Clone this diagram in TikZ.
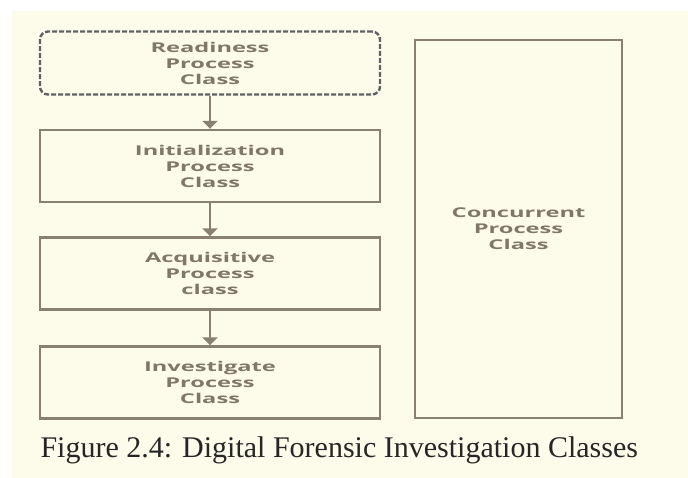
\documentclass[tikz,border=0pt]{standalone}
\usepackage{fontspec}
\setmainfont{Liberation Serif}
\newfontfamily\boxfont[FakeStretch=1.75]{Open Sans}
\usetikzlibrary{arrows.meta,positioning}
\definecolor{cream}{RGB}{253,251,234}
\definecolor{boxline}{RGB}{138,128,114}
\definecolor{boxtext}{RGB}{128,119,106}
\definecolor{dashline}{RGB}{95,98,100}
\tikzset{
  classbox/.style={draw=boxline, line width=2.4pt, minimum width=340pt,
    minimum height=72pt, align=center, text=boxtext,
    font=\boxfont\bfseries\fontsize{13.5}{16}\selectfont},
  flowarrow/.style={draw=boxline, line width=2.4pt,
    -{Triangle[width=15pt,length=8pt]}}
}
\begin{document}
\begin{tikzpicture}[x=1pt, y=-1pt]
  \useasboundingbox (0,0) rectangle (688,478);
  \fill[cream] (12,11) rectangle (688,478);
  % left column of classes
  \node[classbox, draw=dashline, dash pattern=on 5pt off 2pt, rounded corners=8pt,
    minimum height=63pt] (ready) at (210,63) {Readiness\\Process\\Class};
  \node[classbox] (init) at (210,166) {Initialization\\Process\\Class};
  \node[classbox] (acq) at (210,273.5) {Acquisitive\\Process\\class};
  \node[classbox] (inv) at (210,382.5) {Investigate\\Process\\Class};
  \draw[flowarrow] (ready.south) -- (init.north);
  \draw[flowarrow] (init.south) -- (acq.north);
  \draw[flowarrow] (acq.south) -- (inv.north);
  % right column
  \node[classbox, minimum width=207pt, minimum height=378pt] (conc) at (518.5,229)
    {Concurrent\\Process\\Class};
  \node[font=\fontsize{30}{34}\selectfont, text=black!85, anchor=base west] (cap) at (37,457)
    {Figure 2.4: Digital Forensic Investigation Classes};
\end{tikzpicture}
\end{document}
